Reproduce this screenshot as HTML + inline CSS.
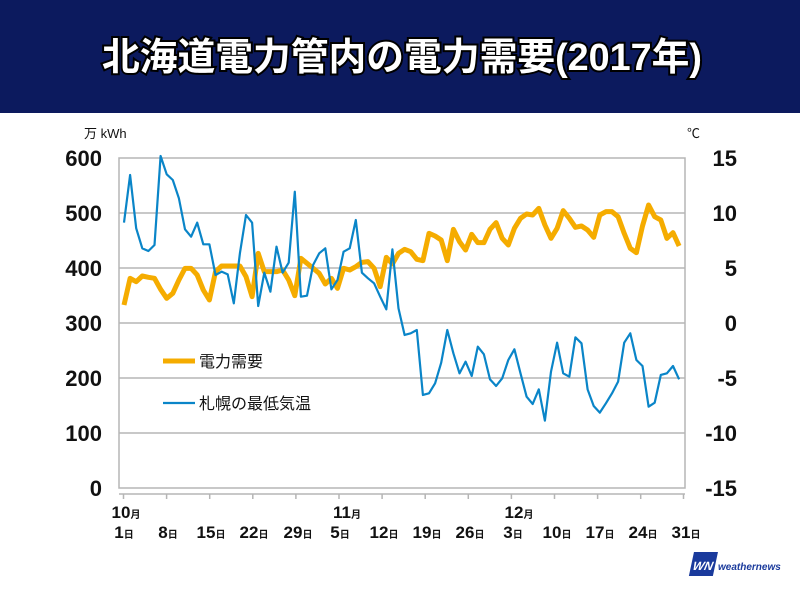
<!DOCTYPE html>
<html><head><meta charset="utf-8"><style>
body{margin:0;width:800px;height:600px;background:#fff;overflow:hidden;font-family:"Liberation Sans","Noto Sans CJK JP",sans-serif}
</style></head><body>
<svg width="800" height="600" xmlns="http://www.w3.org/2000/svg" style="position:absolute;left:0;top:0">
<rect x="0" y="0" width="800" height="113" fill="#0c1a5e"/>
<text x="402" y="70" text-anchor="middle" font-size="38" font-weight="bold" fill="#fff" stroke="#000" stroke-width="4" paint-order="stroke" font-family="Liberation Sans,Noto Sans CJK JP,sans-serif" textLength="600" lengthAdjust="spacingAndGlyphs">北海道電力管内の電力需要(2017年)</text>
<g stroke="#b5b5b5" stroke-width="1.5" fill="none">
<rect x="119" y="158" width="566" height="330"/>
<line x1="119" y1="213" x2="685" y2="213"/><line x1="119" y1="268" x2="685" y2="268"/>
<line x1="119" y1="323" x2="685" y2="323"/><line x1="119" y1="378" x2="685" y2="378"/>
<line x1="119" y1="433" x2="685" y2="433"/>
<line x1="119" y1="494" x2="685" y2="494"/>
<path d="M123.5 494v5M166.6 494v5M209.7 494v5M252.8 494v5M295.9 494v5M339 494v5M382.1 494v5M425.2 494v5M468.3 494v5M511.4 494v5M554.5 494v5M597.6 494v5M640.7 494v5M683.5 494v5"/>
</g>
<g font-size="22" font-weight="bold" fill="#111" text-anchor="end">
<text x="102" y="166">600</text><text x="102" y="221">500</text><text x="102" y="276">400</text><text x="102" y="331">300</text><text x="102" y="386">200</text><text x="102" y="441">100</text><text x="102" y="496">0</text>
</g>
<g font-size="22" font-weight="bold" fill="#111" text-anchor="end">
<text x="737" y="166">15</text><text x="737" y="221">10</text><text x="737" y="276">5</text><text x="737" y="331">0</text><text x="737" y="386">-5</text><text x="737" y="441">-10</text><text x="737" y="496">-15</text>
</g>
<text x="84" y="138" font-size="13" fill="#111">万 kWh</text>
<text x="687" y="138" font-size="13" fill="#111">℃</text>
<g font-size="17" font-weight="bold" fill="#111" text-anchor="middle">
<text x="126" y="518">10<tspan font-size="10">月</tspan></text>
<text x="347" y="518">11<tspan font-size="10">月</tspan></text>
<text x="519" y="518">12<tspan font-size="10">月</tspan></text>
<text x="124" y="538">1<tspan font-size="10">日</tspan></text>
<text x="168" y="538">8<tspan font-size="10">日</tspan></text>
<text x="211" y="538">15<tspan font-size="10">日</tspan></text>
<text x="254" y="538">22<tspan font-size="10">日</tspan></text>
<text x="298" y="538">29<tspan font-size="10">日</tspan></text>
<text x="340" y="538">5<tspan font-size="10">日</tspan></text>
<text x="384" y="538">12<tspan font-size="10">日</tspan></text>
<text x="427" y="538">19<tspan font-size="10">日</tspan></text>
<text x="470" y="538">26<tspan font-size="10">日</tspan></text>
<text x="513" y="538">3<tspan font-size="10">日</tspan></text>
<text x="557" y="538">10<tspan font-size="10">日</tspan></text>
<text x="600" y="538">17<tspan font-size="10">日</tspan></text>
<text x="643" y="538">24<tspan font-size="10">日</tspan></text>
<text x="686" y="538">31<tspan font-size="10">日</tspan></text>
</g>
<g transform="translate(124,140) scale(6.1,0.33333)" fill="none" stroke-linejoin="round">
<polyline vector-effect="non-scaling-stroke" stroke="#f5ac00" stroke-width="5" points="0,495 1,415 2,425 3,408 4,412 5,415 6,448 7,475 8,460 9,420 10,385 11,385 12,405 13,450 14,480 15,395 16,378 17,378 18,378 19,378 20,410 21,470 22,340 23,395 24,395 25,395 26,390 27,420 28,467 29,355 30,370 31,385 32,400 33,432 34,415 35,445 36,385 37,390 38,380 39,367 40,365 41,385 42,440 43,352 44,372 45,340 46,328 47,335 48,358 49,362 50,280 51,288 52,300 53,362 54,268 55,305 56,330 57,283 58,308 59,308 60,268 61,248 62,295 63,315 64,265 65,235 66,222 67,225 68,205 69,255 70,295 71,265 72,212 73,235 74,262 75,258 76,270 77,292 78,225 79,215 80,215 81,230 82,280 83,325 84,338 85,258 86,195 87,230 88,240 89,295 90,278 91,318"/>
<polyline vector-effect="non-scaling-stroke" stroke="#0a85c8" stroke-width="2.2" points="0,248 1,105 2,265 3,325 4,333 5,315 6,48 7,103 8,120 9,175 10,268 11,290 12,248 13,313 14,313 15,405 16,395 17,403 18,490 19,340 20,225 21,248 22,498 23,398 24,455 25,320 26,398 27,368 28,155 29,470 30,467 31,375 32,340 33,325 34,448 35,420 36,335 37,325 38,240 39,398 40,415 41,430 42,470 43,508 44,328 45,505 46,585 47,580 48,570 49,765 50,760 51,730 52,668 53,570 54,640 55,700 56,665 57,708 58,620 59,643 60,718 61,738 62,715 63,660 64,628 65,700 66,770 67,792 68,748 69,842 70,695 71,608 72,700 73,710 74,592 75,610 76,748 77,798 78,818 79,790 80,760 81,725 82,608 83,580 84,660 85,678 86,800 87,788 88,705 89,700 90,678 91,718"/>
</g>
<line x1="163" y1="361" x2="195" y2="361" stroke="#f5ac00" stroke-width="5"/>
<text x="199" y="367" font-size="16" fill="#111">電力需要</text>
<line x1="163" y1="403" x2="195" y2="403" stroke="#0a85c8" stroke-width="2.2"/>
<text x="199" y="409" font-size="16" fill="#111">札幌の最低気温</text>
<g transform="translate(687,566) skewX(-12)"><rect x="4" y="-14" width="24" height="24" fill="#1a3a9c"/><text x="16" y="4" font-size="12" font-weight="bold" fill="#fff" text-anchor="middle" font-style="italic">WN</text></g>
<text x="718" y="570" font-size="10" font-style="italic" fill="#1a3a9c" font-weight="bold">weathernews</text>
</svg>
</body></html>
